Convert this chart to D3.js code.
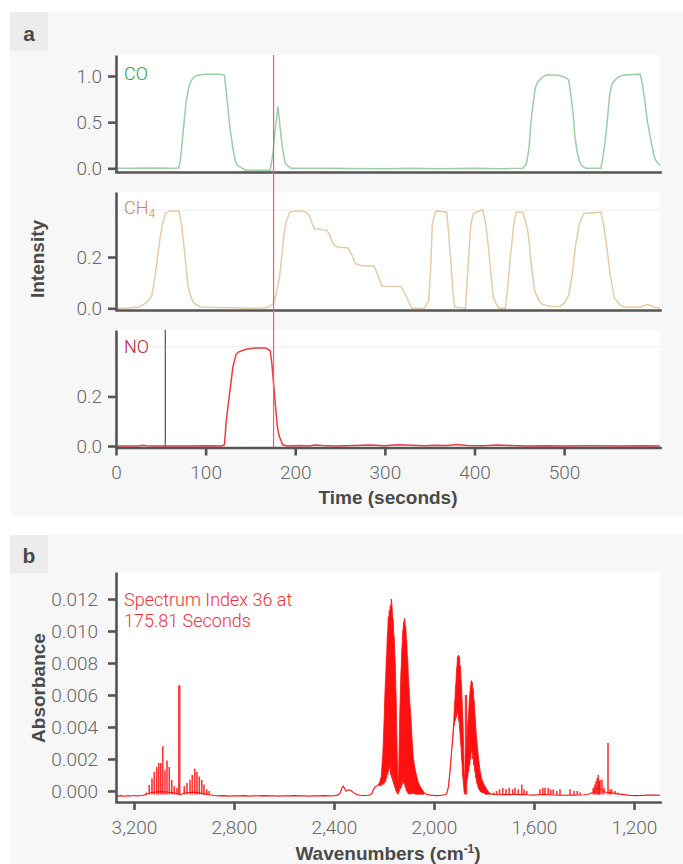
<!DOCTYPE html>
<html>
<head>
<meta charset="utf-8">
<script src="https://cdn.jsdelivr.net/npm/d3@7"></script>
<style>
  body { margin: 0; background: #fff; }
  svg { display: block; }
  .tick text { font-family: Roboto, "Liberation Sans", sans-serif; font-weight: 300; font-size: 19px; fill: #666; }
  .title { font-family: "Liberation Sans", Arial, sans-serif; font-weight: bold; font-size: 19px; fill: #4a4a4a; }
</style>
</head>
<body>
<svg id="chart"></svg>
<script>
// ---- data ----
// time traces, [seconds, intensity]
const coSeries = [[0,0],[20,0],[40,0.003],[60,0],[70,0.002],[72,0.1],[74,0.3],[76,0.5],[78,0.7],[81,0.87],[84,0.95],[87,0.99],[92,1.01],[100,1.02],[115,1.02],[121,1.01],[124,0.74],[127,0.45],[130.7,0.2],[133,0.08],[135.5,0.03],[140,0.005],[145,-0.02],[160,-0.02],[172,-0.02],[175,0.15],[178,0.45],[180.7,0.67],[183,0.45],[186,0.2],[189,0.05],[195,0],[230,0],[260,-0.003],[300,-0.005],[330,0],[360,-0.005],[400,0],[430,-0.004],[454,0],[458,0.05],[461,0.23],[463,0.5],[466,0.74],[468,0.88],[471,0.94],[476,0.99],[481,1.01],[493,1.01],[500,0.99],[505,0.96],[507.5,0.8],[510,0.6],[512,0.35],[514.5,0.18],[517,0.08],[519.5,0.03],[524,0],[541,0],[543,0.1],[546,0.3],[549,0.6],[551,0.8],[553,0.9],[556,0.95],[561,0.99],[566,1.01],[585,1.02],[587.5,0.9],[590,0.74],[593,0.5],[597,0.3],[600,0.15],[602,0.09],[605,0.05],[607,0.03]];

const ch4Series = [[0,0],[10,0],[26,0.005],[33,0.02],[36,0.03],[40,0.05],[43,0.11],[46,0.19],[49,0.27],[52,0.33],[55,0.37],[60,0.38],[70,0.38],[73,0.33],[75,0.27],[78,0.17],[80.5,0.084],[84,0.04],[87,0.02],[94,0.005],[113,0.003],[133,0.002],[152,0],[167,0.002],[173,0.01],[176,0.02],[179,0.06],[182,0.11],[185,0.2],[187,0.28],[190,0.34],[194,0.375],[200,0.38],[208,0.38],[212,0.375],[216,0.36],[219,0.33],[221.5,0.31],[235,0.305],[238,0.29],[242,0.253],[246,0.24],[250,0.238],[259,0.235],[263,0.21],[267,0.175],[272,0.168],[279,0.165],[288,0.165],[292,0.13],[297,0.086],[318,0.085],[324,0.045],[330,0],[344,0],[349,0.03],[351,0.15],[353,0.33],[356,0.37],[358,0.38],[369,0.375],[371,0.3],[373.6,0.18],[376,0.06],[378,0.005],[390,0],[393,0.18],[396,0.33],[399,0.37],[409,0.385],[412,0.34],[414,0.29],[418,0.15],[421,0.04],[427,0],[434.5,0],[437,0.08],[440,0.2],[444,0.33],[446.5,0.375],[454,0.375],[457,0.34],[460,0.29],[464,0.15],[467,0.07],[472,0.03],[476,0.015],[485,0.007],[495,0.007],[500,0.02],[505,0.05],[509,0.13],[513,0.25],[517,0.33],[522,0.37],[541,0.375],[544,0.33],[546,0.28],[549,0.2],[551,0.14],[556,0.04],[562,0.015],[566,0.005],[587,0.005],[592,0.015],[596,0.012],[600,0.005],[607,0]];

const noSeries = [[0,0],[25,0],[30,0.003],[34,0.001],[40,0],[80,0],[100,0.001],[118,0],[121,0.005],[123,0.1],[127,0.22],[130.5,0.32],[134,0.37],[137,0.38],[145,0.39],[155,0.395],[167,0.395],[172,0.385],[174,0.33],[177,0.2],[180,0.08],[182,0.04],[186,0.005],[191,0],[205,0.002],[215,0],[222,0.004],[230,0.002],[245,0],[265,0.002],[285,0.004],[300,0.001],[315,0.005],[330,0.003],[345,0.001],[355,0.003],[370,0.002],[380,0.006],[392,0.002],[410,0.001],[425,0.004],[440,0.002],[460,0],[480,0.001],[500,0],[530,0.001],[560,0],[590,0.001],[607,0]];

const timeTicks = [0, 100, 200, 300, 400, 500];
const coTicks = [0, 0.5, 1.0];
const ch4Ticks = [0, 0.2];
const noTicks = [0, 0.2];
const spectrumTime = 175.81;
const cursorTime = 55;

// spectrum baseline pieces between the dense bands, [wavenumber, absorbance]
const traceHigh = [[3272,-0.0003],[3262,-0.00032],[3250,-0.00029],[3240,-0.00033],[3228,-0.0003],[3215,-0.00031],[3200,-0.00028],[3190,-0.00031],[3178,-0.0003],[3165,-0.00028],[3155,-0.00022],[3145,-0.00018],[3130,-0.0001],[3110,-0.00006],[3090,-0.00004],[3070,-0.00006],[3050,-0.0001],[3030,-0.00016],[3022,-0.0002],[3012,-0.00022],[3000,-0.00014],[2980,-0.0001],[2960,-0.00008],[2940,-0.00012],[2920,-0.00018],[2900,-0.00024],[2880,-0.00028],[2860,-0.00031],[2840,-0.00029],[2820,-0.00032],[2800,-0.0003],[2780,-0.00031],[2760,-0.00029],[2740,-0.00032],[2720,-0.0003],[2700,-0.00031],[2680,-0.00029],[2660,-0.00031],[2640,-0.0003],[2620,-0.00032],[2600,-0.0003],[2580,-0.00031],[2560,-0.00029],[2540,-0.00031],[2520,-0.0003],[2500,-0.00032],[2480,-0.0003],[2460,-0.00031],[2440,-0.00029],[2420,-0.00031],[2400,-0.0003],[2385,-0.00026],[2375,-0.00012],[2368,0.0002],[2363,0.0003],[2358,0.00018],[2352,-0.00002],[2346,0.00004],[2339,0.00007],[2330,0],[2320,-0.00012],[2310,-0.00022],[2295,-0.00027],[2280,-0.00028],[2265,-0.00027],[2255,-0.00024],[2248,-0.00016],[2242,0.0001],[2236,0.00025],[2229,0.0003],[2222,0.00042]];
const traceMid = [[2040,-0.00012],[2030,-0.0002],[2015,-0.00026],[2000,-0.00028],[1985,-0.00029],[1970,-0.00027],[1958,-0.00024],[1950,-0.0002]];
const traceLow = [[1770,-0.0002],[1755,-0.00022],[1740,-0.00024],[1720,-0.00022],[1700,-0.00023],[1680,-0.00021],[1660,-0.00023],[1640,-0.00022],[1620,-0.00025],[1600,-0.00026],[1580,-0.00024],[1560,-0.00023],[1540,-0.00024],[1520,-0.00025],[1500,-0.00026],[1480,-0.00027],[1460,-0.00025],[1440,-0.00026],[1420,-0.00025],[1400,-0.00024],[1385,-0.00022],[1372,-0.00015],[1362,-0.00005],[1352,0.0001],[1345,0.0002],[1338,0.00015],[1330,0.0001],[1322,-0.00002],[1312,-0.00008],[1300,-0.0001],[1290,-0.00012],[1280,-0.00013],[1268,-0.00017],[1255,-0.0002],[1240,-0.00023],[1225,-0.00026],[1210,-0.00028],[1190,-0.00029],[1170,-0.00028],[1150,-0.00026],[1130,-0.00025],[1110,-0.00026],[1096,-0.00027]];

// dense rovibrational bands, [wavenumber, top, bottom]
const coBand = [[2222,0.00045,0.0004],[2218,0.0005,0.0003],[2215,0.0007,0.0004],[2211,0.0009,0.0003],[2208,0.0016,0.0005],[2205,0.0022,0.0004],[2203,0.003,0.0006],[2201,0.0038,0.0004],[2199,0.0047,0.0008],[2197,0.0058,0.0005],[2195,0.0066,0.001],[2193,0.0072,0.0006],[2191,0.0082,0.0012],[2189,0.0086,0.0008],[2187,0.0097,0.0015],[2185,0.01,0.001],[2183,0.0109,0.0018],[2181,0.0106,0.0012],[2179,0.0113,0.002],[2177,0.011,0.0014],[2175,0.0116,0.0018],[2173,0.0112,0.001],[2171,0.012,0.0016],[2169,0.0118,0.0008],[2167,0.0113,0.0014],[2165,0.0108,0.0006],[2163,0.0107,0.001],[2161,0.0098,0.0004],[2159,0.0096,0.0008],[2157,0.0086,0.0002],[2155,0.008,0.0005],[2153,0.0066,0],[2151,0.0055,0.0002],[2149,0.0037,-0.0001],[2147,0.0022,0],[2145,0.001,-0.0002],[2143,0.0002,-0.0002],[2141,0.0014,-0.0001],[2139,0.003,0],[2137,0.0048,0.0003],[2135,0.0058,0.0001],[2133,0.0072,0.0006],[2131,0.0078,0.0002],[2129,0.0088,0.0008],[2127,0.0092,0.0004],[2125,0.01,0.001],[2123,0.0102,0.0005],[2121,0.0106,0.0009],[2119,0.0103,0.0004],[2117,0.0108,0.0008],[2115,0.0102,0.0002],[2113,0.0103,0.0006],[2111,0.0096,0],[2109,0.0094,0.0004],[2107,0.0085,-0.0001],[2105,0.0082,0.0002],[2103,0.0073,-0.0002],[2101,0.0068,0],[2099,0.0062,-0.0002],[2097,0.0055,0],[2095,0.0052,-0.0002],[2092,0.0045,-0.0001],[2089,0.0036,-0.0002],[2086,0.0028,-0.0001],[2083,0.0021,-0.0002],[2080,0.0018,-0.0001],[2076,0.0014,-0.0002],[2072,0.0011,-0.0002],[2069,0.0009,-0.0002],[2062,0.0005,-0.0002],[2056,0.0003,-0.0002],[2048,0.0001,-0.0002],[2040,-0.0001,-0.0002]];

const noBand = [[1950,-0.0002,-0.0002],[1943,0.0002,0.0002],[1936,0.0012,0.0012],[1929,0.0026,0.0026],[1925,0.0034,0.0032],[1921,0.0044,0.004],[1918,0.0054,0.0042],[1916,0.0058,0.0046],[1914,0.0066,0.0044],[1912,0.0068,0.005],[1910,0.0076,0.0046],[1908,0.0078,0.0052],[1906,0.0084,0.0048],[1904,0.0082,0.005],[1902,0.0085,0.0044],[1900,0.008,0.0046],[1898,0.0084,0.004],[1896,0.0076,0.0036],[1894,0.0078,0.003],[1892,0.007,0.0028],[1890,0.0066,0.002],[1888,0.0058,0.0018],[1886,0.005,0.001],[1884,0.0042,0.0008],[1882,0.003,0.0004],[1879,0.0012,-0.0001],[1876,0.0004,-0.0002],[1872,0.0025,0.0004],[1869,0.0032,0.0006],[1867,0.0036,0.001],[1865,0.0042,0.0008],[1863,0.0046,0.0014],[1861,0.005,0.0012],[1859,0.0056,0.0018],[1857,0.006,0.0016],[1855,0.0064,0.0022],[1853,0.0066,0.002],[1851,0.0069,0.0028],[1849,0.0066,0.0024],[1847,0.0068,0.0026],[1845,0.0063,0.002],[1843,0.0064,0.0022],[1841,0.0058,0.0016],[1839,0.0056,0.0018],[1837,0.005,0.0012],[1835,0.0046,0.0012],[1833,0.004,0.0008],[1831,0.0036,0.0008],[1829,0.0032,0.0005],[1826,0.0027,0.0004],[1823,0.0022,0.0002],[1820,0.0018,0.0001],[1816,0.0013,0],[1810,0.0008,-0.0001],[1803,0.0005,-0.0001],[1796,0.0003,-0.0002],[1789,0.0001,-0.0002],[1780,-0.0001,-0.0002],[1770,-0.0002,-0.0002]];

// single lines, [wavenumber, peak absorbance]
const specLines = [[3150,-0.0001],[3139,0.00037],[3128,0.0008],[3119,0.0012],[3109,0.0015],[3101,0.00175],[3093,0.00175],[3085,0.0028],[3076,0.0013],[3068,0.0019],[3059,0.0015],[3049,0.0007],[3039,0.0003],[3028,0.0002],[3019,0.0066],[2999,0.0003],[2988,0.0005],[2976,0.0007],[2967,0.001],[2957,0.0014],[2948,0.0012],[2939,0.0009],[2929,0.0007],[2920,0.0004],[2909,0.0001],[2899,0],[1872,0.006],[1762,-0.0001],[1750,0],[1738,0.0001],[1725,0.0002],[1712,0.0001],[1699,0.0002],[1685,0.0001],[1676,0.0002],[1663,0.0001],[1649,0.0004],[1640,0.0001],[1629,0],[1576,0.0001],[1565,0.0002],[1556,0.0002],[1543,0.0002],[1533,0.0001],[1523,0.0001],[1509,0],[1496,0.0001],[1456,0.0001],[1440,0],[1427,0],[1416,-0.0001],[1363,0.0002],[1357,0.0004],[1352,0.0006],[1347,0.0008],[1343,0.001],[1339,0.0006],[1336,0.0007],[1328,0.0007],[1320,0.0002],[1304,0.003],[1296,0.0001],[1289,0.0001],[1276,0],[1265,-0.0001]];

const wnTicks = [3200, 2800, 2400, 2000, 1600, 1200];
const absTicks = [0, 0.002, 0.004, 0.006, 0.008, 0.01, 0.012];

// ---- layout ----
const W = 683, H = 864;
const svg = d3.select("#chart").attr("width", W).attr("height", H);
const AXIS = "#555";

function panelBox(y0, y1, label, labelBase) {
  svg.append("rect").attr("x", 10).attr("y", y0).attr("width", W - 10).attr("height", y1 - y0).attr("fill", "#f7f7f7");
  svg.append("rect").attr("x", 10).attr("y", y0).attr("width", 38).attr("height", 38).attr("fill", "#ececec");
  svg.append("text").attr("x", 29).attr("y", labelBase).attr("text-anchor", "middle")
    .style("font-family", "'Liberation Sans', Arial, sans-serif").style("font-size", "21px")
    .style("font-weight", "bold").attr("fill", "#4a4a4a").text(label);
}
panelBox(12, 516, "a", 41);
panelBox(535, 864, "b", 563);

const xTime = d3.scaleLinear().domain([0, 607]).range([116, 660]);

const panels = [
  { name: "CO", data: coSeries, ticks: coTicks, color: "#9dcca6", labelColor: "#2f9a40",
    domain: [-0.04, 1.2275], range: [172, 55], grid: [], labelY: 80 },
  { name: "CH", sub: "4", data: ch4Series, ticks: ch4Ticks, color: "#e5cba9", labelColor: "#d4844c",
    domain: [-0.0067, 0.4537], range: [310, 192], grid: [0.383], labelY: 214 },
  { name: "NO", data: noSeries, ticks: noTicks, color: "#ea3b46", labelColor: "#b01c35",
    domain: [-0.006, 0.468], range: [447.5, 330], grid: [0.4], labelY: 353, xAxis: true }
];

panels.forEach(p => {
  const y = d3.scaleLinear().domain(p.domain).range(p.range);
  const g = svg.append("g");
  g.append("rect").attr("x", 116).attr("y", p.range[1]).attr("width", 660 - 116)
    .attr("height", p.range[0] - p.range[1]).attr("fill", "#fff");

  g.selectAll(".grid").data(p.grid).join("line")
    .attr("x1", 116).attr("x2", 660).attr("y1", d => y(d)).attr("y2", d => y(d))
    .attr("stroke", "#ececec").attr("stroke-width", 1);

  if (p.name === "NO") {
    g.append("line").attr("x1", xTime(cursorTime)).attr("x2", xTime(cursorTime))
      .attr("y1", p.range[1]).attr("y2", p.range[0]).attr("stroke", "#555").attr("stroke-width", 1.2);
  }

  g.append("path").datum(p.data)
    .attr("d", d3.line().x(d => xTime(d[0])).y(d => y(d[1])))
    .attr("fill", "none").attr("stroke", p.color).attr("stroke-width", 1.5);

  const lab = g.append("text").attr("x", 124).attr("y", p.labelY)
    .style("font-family", "Roboto, 'Liberation Sans', sans-serif").style("font-weight", 300)
    .style("font-size", "18px").attr("fill", p.labelColor).text(p.name);
  if (p.sub) lab.append("tspan").attr("dy", 4).style("font-size", "12px").text(p.sub);

  const ya = g.append("g").attr("transform", "translate(116,0)")
    .call(d3.axisLeft(y).tickValues(p.ticks).tickFormat(d3.format(".1f")).tickSize(8).tickPadding(6).tickSizeOuter(0));
  ya.select(".domain").attr("stroke", AXIS).attr("stroke-width", 2.6);
  ya.selectAll(".tick line").attr("stroke", AXIS).attr("stroke-width", 2.6);

  const xa = g.append("g").attr("transform", `translate(0,${p.range[0]})`)
    .call(d3.axisBottom(xTime).tickValues(p.xAxis ? timeTicks : []).tickSize(8).tickPadding(10).tickSizeOuter(0));
  xa.select(".domain").attr("stroke", AXIS).attr("stroke-width", 2.6).attr("stroke-linecap", "square");
  xa.selectAll(".tick line").attr("stroke", AXIS).attr("stroke-width", 2.6);
});

// spectrum position marker across the three traces
svg.append("line").attr("x1", xTime(spectrumTime)).attr("x2", xTime(spectrumTime))
  .attr("y1", 55).attr("y2", 447).attr("stroke", "#f2606b").attr("stroke-width", 1.2);

svg.append("text").attr("class", "title").attr("x", 388).attr("y", 504).attr("text-anchor", "middle").text("Time (seconds)");
svg.append("text").attr("class", "title").attr("transform", "translate(44,259) rotate(-90)")
  .attr("text-anchor", "middle").text("Intensity");

// ---- panel b: spectrum ----
const xWn = d3.scaleLinear().domain([3272, 1096]).range([116, 660]);
const yAbs = d3.scaleLinear().domain([-0.00069, 0.01369]).range([802, 572]);
const gb = svg.append("g");
gb.append("rect").attr("x", 116).attr("y", 572).attr("width", 544).attr("height", 230).attr("fill", "#fff");

const RED = "#ff1010";
gb.selectAll(".stick").data(specLines).join("line")
  .attr("x1", d => xWn(d[0])).attr("x2", d => xWn(d[0]))
  .attr("y1", yAbs(-0.00022)).attr("y2", d => yAbs(d[1]))
  .attr("stroke", RED).attr("stroke-opacity", 0.85)
  .attr("stroke-width", d => d[1] > 0.005 ? 2.4 : 1.6);

const traceLine = d3.line().x(d => xWn(d[0])).y(d => yAbs(d[1]));
[traceHigh, traceMid, traceLow].forEach(seg => {
  gb.append("path").datum(seg).attr("d", traceLine)
    .attr("fill", "none").attr("stroke", RED).attr("stroke-width", 1.1);
});

const bandArea = d3.area().x(d => xWn(d[0])).y0(d => yAbs(d[2])).y1(d => yAbs(d[1]));
[coBand, noBand].forEach(band => {
  gb.append("path").datum(band).attr("d", bandArea)
    .attr("fill", RED).attr("stroke", RED).attr("stroke-width", 0.8);
});

const yb = gb.append("g").attr("transform", "translate(116,0)")
  .call(d3.axisLeft(yAbs).tickValues(absTicks).tickFormat(d3.format(".3f")).tickSize(8).tickPadding(10).tickSizeOuter(0));
yb.select(".domain").attr("stroke", AXIS).attr("stroke-width", 2.6);
yb.selectAll(".tick line").attr("stroke", AXIS).attr("stroke-width", 2.6);

const xb = gb.append("g").attr("transform", "translate(0,802)")
  .call(d3.axisBottom(xWn).tickValues(wnTicks).tickFormat(d3.format(",")).tickSize(8).tickPadding(11).tickSizeOuter(0));
xb.select(".domain").attr("stroke", AXIS).attr("stroke-width", 2.6).attr("stroke-linecap", "square");
xb.selectAll(".tick line").attr("stroke", AXIS).attr("stroke-width", 2.6);

const note = gb.append("text").attr("x", 124).attr("y", 606)
  .style("font-family", "Roboto, 'Liberation Sans', sans-serif").style("font-weight", 300)
  .style("font-size", "18px").attr("fill", "#f0303a");
note.append("tspan").attr("x", 124).text("Spectrum Index 36 at");
note.append("tspan").attr("x", 124).attr("dy", 21).text("175.81 Seconds");

const xt = svg.append("text").attr("class", "title").attr("x", 388).attr("y", 860).attr("text-anchor", "middle");
xt.append("tspan").text("Wavenumbers (cm");
xt.append("tspan").attr("dy", -7).style("font-size", "12px").text("-1");
xt.append("tspan").attr("dy", 7).text(")");
svg.append("text").attr("class", "title").attr("transform", "translate(45,688) rotate(-90)")
  .attr("text-anchor", "middle").text("Absorbance");
</script>
</body>
</html>
